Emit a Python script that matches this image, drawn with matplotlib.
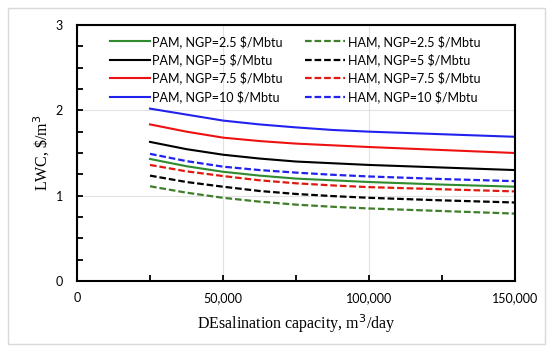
import numpy as np
import matplotlib
matplotlib.use("Agg")
import matplotlib.pyplot as plt
from matplotlib.ticker import MultipleLocator, FuncFormatter
from matplotlib.patches import Rectangle

# desalination capacity, m3/day
capacity = [25000, 37500, 50000, 62500, 75000, 87500, 100000, 125000, 150000]

# levelized water cost, $/m3
pam_25 = [1.43, 1.345, 1.28, 1.235, 1.20, 1.18, 1.16, 1.13, 1.105]
pam_5 = [1.63, 1.545, 1.48, 1.435, 1.40, 1.38, 1.36, 1.33, 1.30]
pam_75 = [1.835, 1.75, 1.68, 1.64, 1.61, 1.59, 1.57, 1.535, 1.50]
pam_10 = [2.02, 1.95, 1.88, 1.835, 1.80, 1.77, 1.75, 1.72, 1.69]
ham_25 = [1.11, 1.035, 0.975, 0.93, 0.895, 0.87, 0.85, 0.82, 0.79]
ham_5 = [1.235, 1.16, 1.105, 1.055, 1.02, 0.995, 0.975, 0.945, 0.92]
ham_75 = [1.36, 1.285, 1.23, 1.18, 1.145, 1.12, 1.10, 1.075, 1.05]
ham_10 = [1.49, 1.405, 1.34, 1.30, 1.27, 1.245, 1.225, 1.195, 1.17]

pam = [
    ("PAM, NGP=2.5 $/Mbtu", pam_25, "#2e8b2e"),
    ("PAM, NGP=5 $/Mbtu", pam_5, "black"),
    ("PAM, NGP=7.5 $/Mbtu", pam_75, "#ee1111"),
    ("PAM, NGP=10 $/Mbtu", pam_10, "#2222ee"),
]
ham = [
    ("HAM, NGP=2.5 $/Mbtu", ham_25, "#3f7f2a"),
    ("HAM, NGP=5 $/Mbtu", ham_5, "black"),
    ("HAM, NGP=7.5 $/Mbtu", ham_75, "#e01a10"),
    ("HAM, NGP=10 $/Mbtu", ham_10, "#2222ee"),
]

fig = plt.figure(figsize=(5.5, 3.52), dpi=100)
ax = fig.add_axes([77 / 550, 1 - 281 / 352, 438 / 550, 256 / 352])

# light frame around the whole figure
fig.patches.append(Rectangle((8 / 550, 8 / 352), 537 / 550, 336 / 352,
                             transform=fig.transFigure, fill=False,
                             edgecolor="#d9d9d9", lw=1.0))

pam_lines = []
for label, vals, col in pam:
    l, = ax.plot(capacity, vals, color=col, lw=1.5, label=label)
    pam_lines.append(l)
ham_lines = []
for label, vals, col in ham:
    l, = ax.plot(capacity, vals, color=col, lw=1.6, dashes=(3, 1.3), label=label)
    ham_lines.append(l)

ax.set_xlim(0, 150000)
ax.set_ylim(0, 3)
ax.xaxis.set_major_locator(MultipleLocator(50000))
ax.xaxis.set_minor_locator(MultipleLocator(25000))
ax.yaxis.set_major_locator(MultipleLocator(1))
ax.yaxis.set_minor_locator(MultipleLocator(0.25))
ax.xaxis.set_major_formatter(FuncFormatter(lambda v, p: f"{int(v):,}"))
ax.grid(True, which="major", color="#e2e2e2", lw=0.8)
ax.set_axisbelow(True)

for lab in ax.get_xticklabels() + ax.get_yticklabels():
    lab.set_fontfamily("Lato")
    lab.set_fontsize(9)
ax.tick_params(which="both", direction="in", width=1.3, colors="black")
ax.tick_params(which="major", length=4)
ax.tick_params(which="minor", length=4)
ax.tick_params(axis="y", which="major", pad=10)
ax.tick_params(axis="x", which="major", pad=8)
for s in ax.spines.values():
    s.set_linewidth(1.5)

ax.set_xlabel("DEsalination capacity, m$^3$/day", family="Liberation Serif",
              fontsize=11.5, labelpad=6)
ax.set_ylabel("LWC, \\$/m$^3$", family="Liberation Serif", fontsize=11.5, labelpad=3)

leg_kw = dict(frameon=False, loc="upper left", bbox_transform=fig.transFigure,
              borderpad=0, borderaxespad=0, handlelength=3.2, handletextpad=0.2,
              labelspacing=0.44, prop={"family": "Lato", "size": 9})
leg1 = ax.legend(pam_lines, [p[0] for p in pam],
                 bbox_to_anchor=(110 / 550, 1 - 35 / 352), **leg_kw)
ax.add_artist(leg1)
ax.legend(ham_lines, [h[0] for h in ham],
          bbox_to_anchor=(305 / 550, 1 - 35 / 352), **leg_kw)

fig.savefig("out.png", dpi=100)
